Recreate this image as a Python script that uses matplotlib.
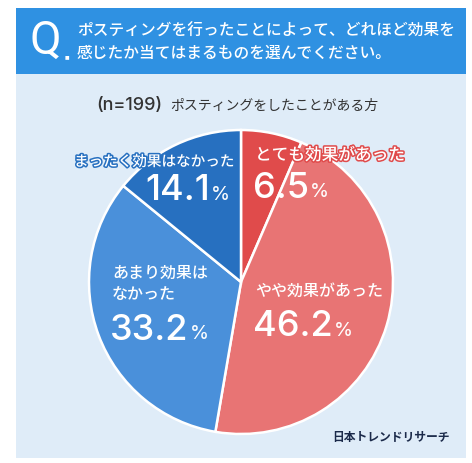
import matplotlib
matplotlib.use("Agg")
import matplotlib.pyplot as plt
from matplotlib.patches import Rectangle
import matplotlib.patheffects as pe

plt.rcParams['font.family'] = ['Noto Sans CJK JP', 'DejaVu Sans']

# Data
categories = ["とても効果があった", "やや効果があった", "あまり効果は\nなかった", "まったく効果はなかった"]
values = [6.5, 46.2, 33.2, 14.1]
colors = ["#E04B4B", "#E87474", "#4A90DA", "#2770C0"]
question_lines = ["ポスティングを行ったことによって、どれほど効果を",
                  "感じたか当てはまるものを選んでください。"]
n_label = "(n=199)"
sub_label = "ポスティングをしたことがある方"
source = "日本トレンドリサーチ"

W, H = 472, 463
fig = plt.figure(figsize=(W / 100, H / 100), dpi=100)
fig.patch.set_facecolor("white")

bg = fig.add_axes([0, 0, 1, 1], zorder=0)
bg.set_xlim(0, W)
bg.set_ylim(H, 0)
bg.axis("off")
bg.add_patch(Rectangle((16, 8), 450, 450, color="#DFECF8", lw=0))
bg.add_patch(Rectangle((16, 8), 450, 66, color="#2F91E2", lw=0))

# Pie
cx, cy, r = 241, 282, 152
pax = fig.add_axes([(cx - r) / W, (H - cy - r) / H, 2 * r / W, 2 * r / H], zorder=1)
pax.pie(values, colors=colors, startangle=90, counterclock=False,
        wedgeprops=dict(edgecolor="white", linewidth=1.8))
pax.set_aspect("equal")
pax.set_xlim(-1.0, 1.0)
pax.set_ylim(-1.0, 1.0)
pax.axis("off")

tx = fig.add_axes([0, 0, 1, 1], zorder=2)
tx.set_xlim(0, W)
tx.set_ylim(H, 0)
tx.axis("off")
tx.patch.set_alpha(0)

NUMFONT = ["Inter", "Lato", "DejaVu Sans"]

# Header
tx.text(29, 41, "Q", color="white", fontsize=33, ha="left", va="center",
        family=["Liberation Sans Narrow", "Roboto", "DejaVu Sans"])
tx.text(65, 57, "■", color="white", fontsize=3.5, ha="left", va="center", family=["DejaVu Sans"])
for i, line in enumerate(question_lines):
    tx.text(77, 31 + i * 22, line, color="white", fontsize=11.3, fontweight="medium",
            ha="left", va="center")

# Subtitle
tx.text(96, 106, n_label, color="#333333", fontsize=13, fontweight="medium", ha="left", va="center",
        family=NUMFONT)
tx.text(170, 106, sub_label, color="#333333", fontsize=10, ha="left", va="center")

fig.canvas.draw()
renderer = fig.canvas.get_renderer()


def pct(x, y, v, right=False):
    if not right:
        t = tx.text(x, y, f"{v}", color="white", fontsize=26, fontweight="medium",
                    ha="left", va="center", family=NUMFONT)
        bb = t.get_window_extent(renderer=renderer)
        tx.text(bb.x1 + 1, y + 4, "%", color="white", fontsize=14, ha="left", va="center",
                family=NUMFONT)
    else:
        p = tx.text(x, y + 4, "%", color="white", fontsize=14, ha="right", va="center",
                    family=NUMFONT)
        bb = p.get_window_extent(renderer=renderer)
        tx.text(bb.x0 - 1, y, f"{v}", color="white", fontsize=26, fontweight="medium",
                ha="right", va="center", family=NUMFONT)


stroke_red = [pe.withStroke(linewidth=2.2, foreground="#E04B4B")]
stroke_blue = [pe.withStroke(linewidth=2.2, foreground="#2770C0")]

# Labels
tx.text(255, 155, categories[0], color="white", fontsize=12, fontweight="medium",
        ha="left", va="center", path_effects=stroke_red)
pct(253, 188, values[0])

tx.text(255, 291, categories[1], color="white", fontsize=11.5, fontweight="medium",
        ha="left", va="center")
pct(253, 327, values[1])

lines2 = categories[2].split("\n")
tx.text(112, 273, lines2[0], color="white", fontsize=11.5, fontweight="medium", ha="left", va="center")
tx.text(112, 294, lines2[1], color="white", fontsize=11.5, fontweight="medium", ha="left", va="center")
pct(110, 330, values[2])

tx.text(74, 162, categories[3], color="white", fontsize=10.5, fontweight="medium",
        ha="left", va="center", path_effects=stroke_blue)
pct(230, 191, values[3], right=True)

# Source
tx.text(450, 437, source, color="#1B2A4A", fontsize=8.5, fontweight="bold", ha="right", va="center")

fig.savefig("out.png", dpi=100, facecolor="white")
